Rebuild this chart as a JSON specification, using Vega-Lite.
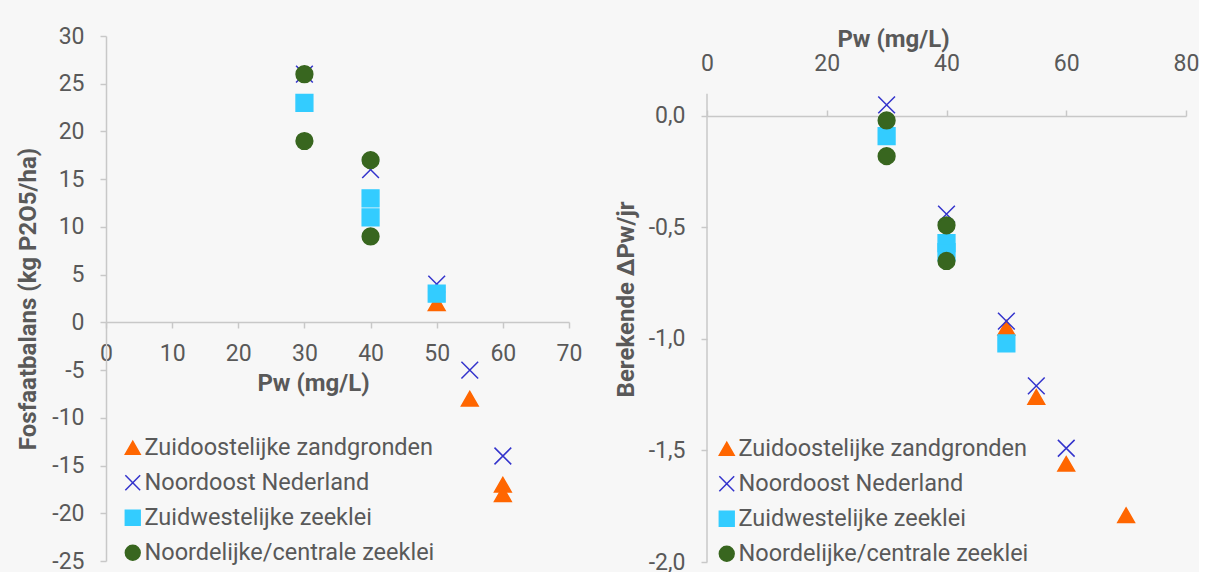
{
  "$schema": "https://vega.github.io/schema/vega-lite/v6.json",
  "background": "#f7f7f7",
  "padding": {"left": 16, "top": 25, "right": 0, "bottom": 0},
  "spacing": 32,
  "datasets": {
    "links": [
      {"reeks": "Zuidoostelijke zandgronden", "Pw": 50, "waarde": 2},
      {"reeks": "Zuidoostelijke zandgronden", "Pw": 55, "waarde": -8},
      {"reeks": "Zuidoostelijke zandgronden", "Pw": 60, "waarde": -17},
      {"reeks": "Zuidoostelijke zandgronden", "Pw": 60, "waarde": -18},
      {"reeks": "Noordoost Nederland", "Pw": 30, "waarde": 26},
      {"reeks": "Noordoost Nederland", "Pw": 40, "waarde": 16},
      {"reeks": "Noordoost Nederland", "Pw": 50, "waarde": 4},
      {"reeks": "Noordoost Nederland", "Pw": 55, "waarde": -5},
      {"reeks": "Noordoost Nederland", "Pw": 60, "waarde": -14},
      {"reeks": "Zuidwestelijke zeeklei", "Pw": 30, "waarde": 23},
      {"reeks": "Zuidwestelijke zeeklei", "Pw": 40, "waarde": 13},
      {"reeks": "Zuidwestelijke zeeklei", "Pw": 40, "waarde": 11},
      {"reeks": "Zuidwestelijke zeeklei", "Pw": 50, "waarde": 3},
      {"reeks": "Noordelijke/centrale zeeklei", "Pw": 30, "waarde": 26},
      {"reeks": "Noordelijke/centrale zeeklei", "Pw": 30, "waarde": 19},
      {"reeks": "Noordelijke/centrale zeeklei", "Pw": 40, "waarde": 17},
      {"reeks": "Noordelijke/centrale zeeklei", "Pw": 40, "waarde": 9}
    ],
    "rechts": [
      {"reeks": "Zuidoostelijke zandgronden", "Pw": 50, "waarde": -0.95},
      {"reeks": "Zuidoostelijke zandgronden", "Pw": 55, "waarde": -1.26},
      {"reeks": "Zuidoostelijke zandgronden", "Pw": 60, "waarde": -1.56},
      {"reeks": "Zuidoostelijke zandgronden", "Pw": 70, "waarde": -1.79},
      {"reeks": "Noordoost Nederland", "Pw": 30, "waarde": 0.05},
      {"reeks": "Noordoost Nederland", "Pw": 40, "waarde": -0.44},
      {"reeks": "Noordoost Nederland", "Pw": 50, "waarde": -0.92},
      {"reeks": "Noordoost Nederland", "Pw": 55, "waarde": -1.21},
      {"reeks": "Noordoost Nederland", "Pw": 60, "waarde": -1.49},
      {"reeks": "Zuidwestelijke zeeklei", "Pw": 30, "waarde": -0.09},
      {"reeks": "Zuidwestelijke zeeklei", "Pw": 40, "waarde": -0.57},
      {"reeks": "Zuidwestelijke zeeklei", "Pw": 40, "waarde": -0.61},
      {"reeks": "Zuidwestelijke zeeklei", "Pw": 50, "waarde": -1.02},
      {"reeks": "Noordelijke/centrale zeeklei", "Pw": 30, "waarde": -0.02},
      {"reeks": "Noordelijke/centrale zeeklei", "Pw": 30, "waarde": -0.18},
      {"reeks": "Noordelijke/centrale zeeklei", "Pw": 40, "waarde": -0.49},
      {"reeks": "Noordelijke/centrale zeeklei", "Pw": 40, "waarde": -0.65}
    ]
  },
  "resolve": {"scale": {"fill": "independent", "stroke": "independent", "shape": "independent"}},
  "hconcat": [
    {
      "width": 463,
      "height": 525,
      "data": {"name": "links"},
      "mark": {"type": "point", "filled": true, "size": 280, "strokeWidth": 1.5, "opacity": 1},
      "encoding": {
        "x": {
          "field": "Pw", "type": "quantitative",
          "scale": {"domain": [0, 70], "nice": false, "zero": false},
          "axis": {"orient": "bottom", "offset": -239, "values": [0, 10, 20, 30, 40, 50, 60, 70], "labelPadding": 14, "title": "Pw (mg/L)", "titleX": 207, "titlePadding": 6}
        },
        "y": {
          "field": "waarde", "type": "quantitative",
          "scale": {"domain": [-25, 30], "nice": false, "zero": false},
          "axis": {"values": [-25, -20, -15, -10, -5, 0, 5, 10, 15, 20, 25, 30], "labelExpr": "replace(datum.label, '−', '-')", "labelPadding": 16, "title": "Fosfaatbalans (kg P2O5/ha)", "titlePadding": 11}
        },
        "fill": {
          "field": "reeks", "type": "nominal",
          "scale": {"domain": ["Zuidoostelijke zandgronden", "Noordoost Nederland", "Zuidwestelijke zeeklei", "Noordelijke/centrale zeeklei"], "range": ["#ff6600", "#3333cc", "#33ccff", "#38661f"]},
          "legend": {"orient": "none", "legendX": 15, "legendY": 400, "title": null}
        },
        "stroke": {
          "field": "reeks", "type": "nominal",
          "scale": {"domain": ["Zuidoostelijke zandgronden", "Noordoost Nederland", "Zuidwestelijke zeeklei", "Noordelijke/centrale zeeklei"], "range": ["#ff6600", "#3333cc", "#33ccff", "#38661f"]},
          "legend": {"orient": "none", "legendX": 15, "legendY": 400, "title": null}
        },
        "shape": {
          "field": "reeks", "type": "nominal",
          "scale": {"domain": ["Zuidoostelijke zandgronden", "Noordoost Nederland", "Zuidwestelijke zeeklei", "Noordelijke/centrale zeeklei"], "range": ["triangle-up", "M-1,-1L1,1M-1,1L1,-1", "square", "circle"]},
          "legend": {"orient": "none", "legendX": 15, "legendY": 400, "title": null}
        }
      }
    },
    {
      "width": 479,
      "height": 526,
      "data": {"name": "rechts"},
      "resolve": {"axis": {"x": "independent"}},
      "layer": [
        {
          "mark": {"type": "rule", "color": "#c8c8c8", "strokeWidth": 1.5},
          "data": {"values": [{}]},
          "encoding": {
            "x": {"datum": 0, "type": "quantitative", "scale": {"domain": [0, 80], "nice": false, "zero": false},
              "axis": {"orient": "top", "offset": -80, "values": [0, 20, 40, 60, 80], "labels": false, "title": null, "domain": true, "ticks": true}},
            "y": {"datum": -2, "type": "quantitative"},
            "y2": {"datum": 0.1}
          }
        },
        {
          "mark": {"type": "point", "filled": true, "size": 280, "strokeWidth": 1.5, "opacity": 1},
          "encoding": {
            "x": {
              "field": "Pw", "type": "quantitative",
              "scale": {"domain": [0, 80], "nice": false, "zero": false},
              "axis": {"orient": "top", "offset": -41, "values": [0, 20, 40, 60, 80], "domain": false, "ticks": false, "labelPadding": 2, "title": "Pw (mg/L)", "titleX": 186, "titlePadding": 1}
            },
            "y": {
              "field": "waarde", "type": "quantitative",
              "scale": {"domain": [-2, 0.3587], "nice": false, "zero": false},
              "axis": {"values": [-2, -1.5, -1, -0.5, 0], "domain": false, "labelExpr": "replace(replace(format(datum.value, '.1f'), '.', ','), '−', '-')", "labelPadding": 16, "title": "Berekende ΔPw/jr", "titlePadding": 10}
            },
            "fill": {
              "field": "reeks", "type": "nominal",
              "scale": {"domain": ["Zuidoostelijke zandgronden", "Noordoost Nederland", "Zuidwestelijke zeeklei", "Noordelijke/centrale zeeklei"], "range": ["#ff6600", "#3333cc", "#33ccff", "#38661f"]},
              "legend": {"orient": "none", "legendX": 8, "legendY": 401, "title": null}
            },
            "stroke": {
              "field": "reeks", "type": "nominal",
              "scale": {"domain": ["Zuidoostelijke zandgronden", "Noordoost Nederland", "Zuidwestelijke zeeklei", "Noordelijke/centrale zeeklei"], "range": ["#ff6600", "#3333cc", "#33ccff", "#38661f"]},
              "legend": {"orient": "none", "legendX": 8, "legendY": 401, "title": null}
            },
            "shape": {
              "field": "reeks", "type": "nominal",
              "scale": {"domain": ["Zuidoostelijke zandgronden", "Noordoost Nederland", "Zuidwestelijke zeeklei", "Noordelijke/centrale zeeklei"], "range": ["triangle-up", "M-1,-1L1,1M-1,1L1,-1", "square", "circle"]},
              "legend": {"orient": "none", "legendX": 8, "legendY": 401, "title": null}
            }
          }
        }
      ]
    }
  ],
  "config": {
    "font": "Roboto",
    "view": {"stroke": null},
    "axis": {
      "labelColor": "#595959", "titleColor": "#595959",
      "labelFontSize": 23, "titleFontSize": 24, "titleFontWeight": "bold",
      "domainColor": "#c8c8c8", "tickColor": "#c8c8c8", "domainWidth": 1.5, "tickWidth": 1.5, "tickSize": 6,
      "grid": false, "labelFlush": false, "labelOverlap": false
    },
    "legend": {
      "labelFontSize": 23.5, "labelColor": "#595959", "symbolSize": 220, "symbolStrokeWidth": 1.5,
      "rowPadding": 10, "labelOffset": 0, "padding": 0, "labelLimit": 500
    }
  }
}
